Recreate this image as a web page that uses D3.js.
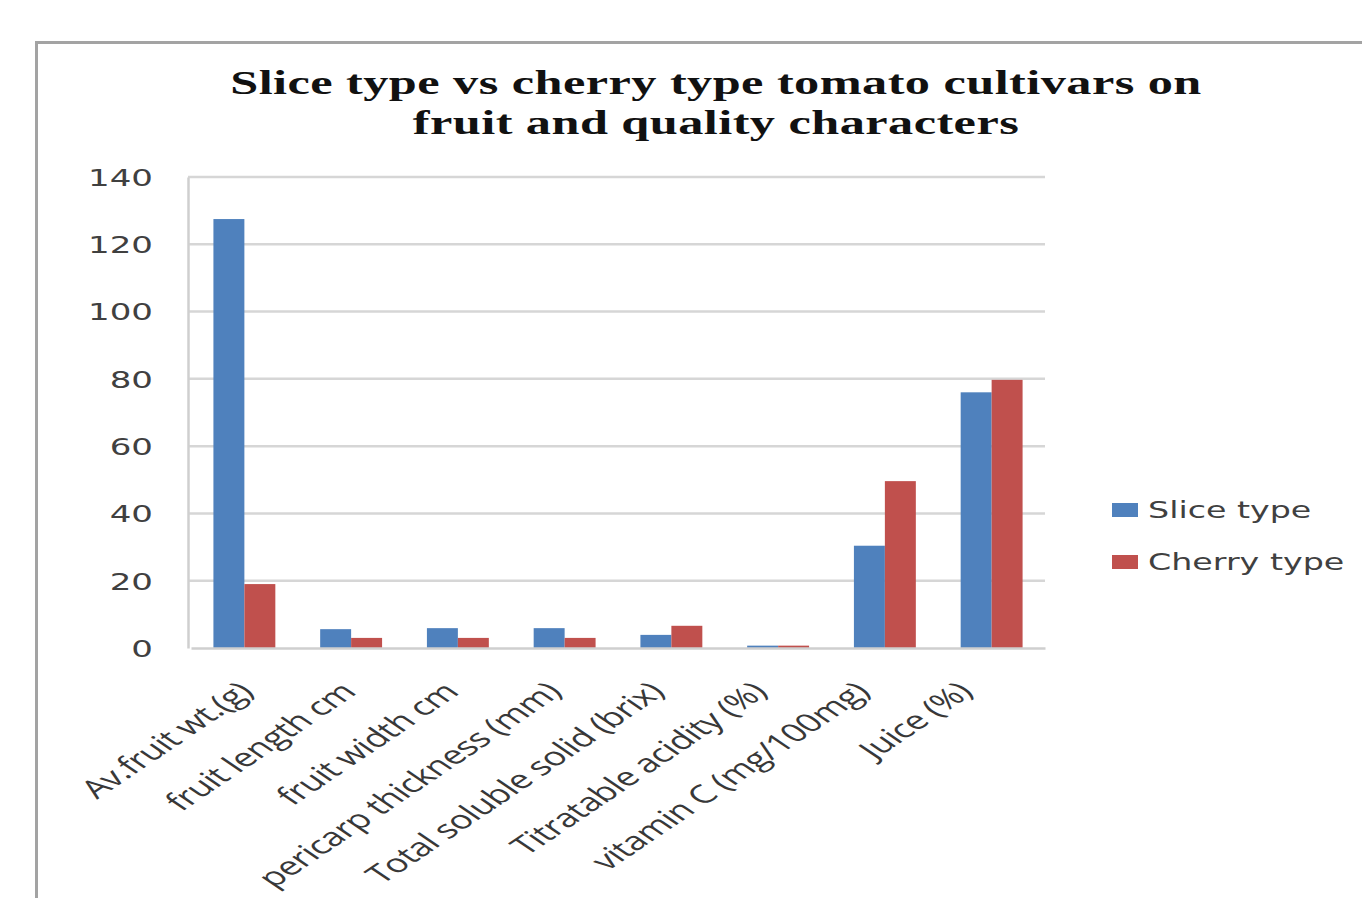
<!DOCTYPE html>
<html>
<head>
<meta charset="utf-8">
<script src="https://cdn.jsdelivr.net/npm/d3@7"></script>
<style>
  body { margin: 0; background: #fff; }
  svg { display: block; }
</style>
</head>
<body>
<div id="chart"></div>
<script>
var categories = ["Av.fruit wt.(g)", "fruit length cm", "fruit width cm", "pericarp thickness (mm)",
    "Total soluble solid (brix)", "Titratable acidity (%)", "vitamin C (mg/100mg)", "Juice (%)"];
var seriesNames = ["Slice type", "Cherry type"];
var sliceType = [127.5, 5.6, 5.9, 5.9, 3.9, 0.7, 30.4, 76];
var cherryType = [19, 3.0, 3.0, 3.0, 6.6, 0.7, 49.6, 79.7];
var yTicks = [0, 20, 40, 60, 80, 100, 120, 140];
var titleLines = ["Slice type vs cherry type tomato cultivars on", "fruit and quality characters"];

var colors = ["#4f81bd", "#c0504d"];
var sx = 1.48; // the picture is stretched sideways

var widthSvg = 1362, heightSvg = 898;
var svg = d3.select("#chart").append("svg")
    .attr("width", widthSvg)
    .attr("height", heightSvg);

var plot = { left: 188, right: 1045, top: 177, bottom: 648 };

// chart border
svg.append("rect")
    .attr("x", 36.5).attr("y", 42.5)
    .attr("width", 1400).attr("height", 900)
    .attr("fill", "none")
    .attr("stroke", "#a3a3a3")
    .attr("stroke-width", 3);

// title
svg.append("g").selectAll("text")
    .data(titleLines)
    .enter().append("text")
    .attr("transform", function (d, i) {
        return "translate(716," + (94 + i * 40) + ") scale(" + sx + ",1)";
    })
    .attr("text-anchor", "middle")
    .attr("font-family", "Liberation Serif")
    .attr("font-weight", "bold")
    .attr("font-size", 34)
    .attr("letter-spacing", 0.3)
    .attr("fill", "#111")
    .text(function (d) { return d; });

var yScale = d3.scaleLinear()
    .domain([0, 140])
    .range([plot.bottom, plot.top]);

var x0 = d3.scaleBand()
    .domain(categories)
    .range([plot.left + 3, plot.right])
    .paddingInner(0.42)
    .paddingOuter(0.21);

var x1 = d3.scaleBand()
    .domain(seriesNames)
    .range([0, x0.bandwidth()]);

// gridlines
svg.append("g")
    .selectAll("line")
    .data(yTicks.slice(1))
    .enter().append("line")
    .attr("x1", plot.left).attr("x2", plot.right)
    .attr("y1", function (d) { return yScale(d); })
    .attr("y2", function (d) { return yScale(d); })
    .attr("stroke", "#d6d6d6")
    .attr("stroke-width", 2.5);

// y axis
var yAxis = svg.append("g")
    .attr("transform", "translate(" + plot.left + ",0)")
    .call(d3.axisLeft(yScale).tickValues(yTicks).tickSize(0).tickPadding(0));
yAxis.select(".domain").attr("stroke", "#cfcfcf").attr("stroke-width", 2.5);
yAxis.selectAll("text")
    .attr("x", null)
    .attr("transform", "translate(-35,0) scale(" + sx + ",1)")
    .attr("dy", "0.36em")
    .attr("font-family", "DejaVu Sans")
    .attr("font-size", 23)
    .attr("fill", "#404040");

// bars
var rows = categories.map(function (c, i) {
    return { cat: c, values: [sliceType[i], cherryType[i]] };
});
svg.append("g")
    .selectAll("g")
    .data(rows)
    .enter().append("g")
    .attr("transform", function (d) { return "translate(" + x0(d.cat) + ",0)"; })
    .selectAll("rect")
    .data(function (d) {
        return d.values.map(function (v, j) { return { key: seriesNames[j], value: v, j: j }; });
    })
    .enter().append("rect")
    .attr("x", function (d) { return x1(d.key); })
    .attr("y", function (d) { return yScale(d.value); })
    .attr("width", x1.bandwidth())
    .attr("height", function (d) { return yScale(0) - yScale(d.value); })
    .attr("fill", function (d) { return colors[d.j]; });

// x axis
var xAxis = svg.append("g")
    .attr("transform", "translate(0," + plot.bottom + ")")
    .call(d3.axisBottom(x0).tickSize(0).tickPadding(0));
xAxis.select(".domain").attr("stroke", "#cfcfcf").attr("stroke-width", 2.5);
xAxis.selectAll("text")
    .attr("y", null).attr("dy", "0.35em")
    .attr("text-anchor", "end")
    .attr("transform", function (d, i) {
        return "translate(" + (1 - i * 4) + ",39) scale(" + sx + ",1) rotate(-45)";
    })
    .attr("font-family", "Open Sans")
    .attr("font-size", 25.5)
    .attr("letter-spacing", -0.4)
    .attr("fill", "#383838");

// legend
var legend = svg.append("g")
    .selectAll("g")
    .data(seriesNames)
    .enter().append("g")
    .attr("transform", function (d, i) { return "translate(1112," + (503 + i * 52) + ")"; });
legend.append("rect")
    .attr("width", 26).attr("height", 14)
    .attr("fill", function (d, i) { return colors[i]; });
legend.append("text")
    .attr("transform", "translate(36,7) scale(" + sx + ",1)")
    .attr("dy", "0.36em")
    .attr("font-family", "DejaVu Sans")
    .attr("font-size", 22.5)
    .attr("fill", "#404040")
    .text(function (d) { return d; });
</script>
</body>
</html>
